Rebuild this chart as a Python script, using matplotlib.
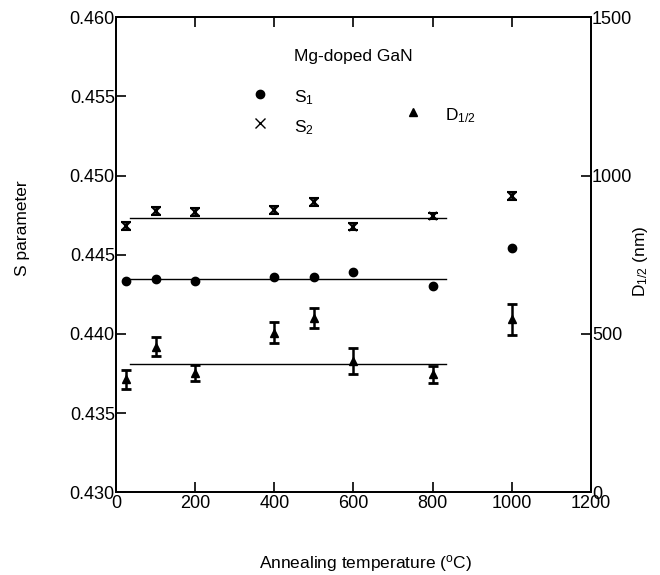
import matplotlib
matplotlib.use("Agg")
import matplotlib.pyplot as plt

plt.rcParams['font.family'] = ['Liberation Sans', 'DejaVu Sans']
plt.rcParams['mathtext.fontset'] = 'custom'
plt.rcParams['mathtext.rm'] = 'Liberation Sans'
plt.rcParams['mathtext.it'] = 'Liberation Sans:italic'

# annealing temperatures (C)
temps = [25, 100, 200, 400, 500, 600, 800, 1000]

# S parameters
s1 = [0.44335, 0.44345, 0.44331, 0.44360, 0.44358, 0.44391, 0.44301, 0.44545]
s2 = [0.44684, 0.44775, 0.44768, 0.44781, 0.44834, 0.44676, 0.44745, 0.44869]
s2_err = [0.00025, 0.00025, 0.00025, 0.00025, 0.00025, 0.00022, 0.00020, 0.00025]

# D1/2 (nm)
d12 = [356, 459, 377, 504, 550, 413, 372, 546]
d12_err = [30, 30, 25, 34, 32, 41, 27, 49]

# mean lines
s1_mean = 0.44347
s2_mean = 0.44735
d12_mean = 406
line_range = [35, 835]

fig = plt.figure(figsize=(6.6, 5.75), dpi=100)
ax = fig.add_axes([0.176, 0.144, 0.719, 0.826])
ax2 = ax.twinx()

ax.plot(temps, s1, 'o', color='black', markersize=6)
ax.errorbar(temps, s2, yerr=s2_err, fmt='x', color='black', markersize=6,
            mew=1.5, capsize=3.5, elinewidth=1.8, capthick=2)
ax.plot(line_range, [s1_mean, s1_mean], color='black', lw=1)
ax.plot(line_range, [s2_mean, s2_mean], color='black', lw=1)

ax2.errorbar(temps, d12, yerr=d12_err, fmt='^', color='black', markersize=6,
             capsize=3.5, elinewidth=1.8, capthick=2)
ax2.plot(line_range, [d12_mean, d12_mean], color='black', lw=1)

ax.set_xlim(0, 1200)
ax.set_ylim(0.430, 0.460)
ax2.set_ylim(0, 1500)
ax.set_xticks([0, 200, 400, 600, 800, 1000, 1200])
ax.set_yticks([0.430, 0.435, 0.440, 0.445, 0.450, 0.455, 0.460])
ax.set_yticklabels(['0.430', '0.435', '0.440', '0.445', '0.450', '0.455', '0.460'])
ax2.set_yticks([0, 500, 1000, 1500])

ax.tick_params(axis='x', direction='in', top=True, length=7, width=1.2,
               labelsize=13, pad=2)
ax.tick_params(axis='y', direction='in', length=7, width=1.2, labelsize=13, pad=1)
ax2.tick_params(axis='y', direction='in', length=7, width=1.2, labelsize=13, pad=1)
for sp in ax.spines.values():
    sp.set_linewidth(1.3)
for sp in ax2.spines.values():
    sp.set_linewidth(1.3)

fig.text(366 / 660, 1 - 564 / 575, r'Annealing temperature ($^{\mathrm{o}}$C)',
         fontsize=12.5, ha='center', va='center')
fig.text(23 / 660, 1 - 228 / 575, 'S parameter', fontsize=12.5,
         rotation=90, ha='center', va='center')
fig.text(640 / 660, 1 - 261 / 575, r'D$_{1/2}$ (nm)', fontsize=12.5,
         rotation=90, ha='center', va='center')

# in-plot key
ax.text(600, 0.4575, 'Mg-doped GaN', fontsize=12.5, ha='center', va='center')
ax.plot([364], [0.45514], 'o', color='black', markersize=6)
ax.text(450, 0.4549, r'S$_1$', fontsize=12.5, va='center')
ax.plot([364], [0.45330], 'x', color='black', markersize=7, mew=1)
ax.text(450, 0.4530, r'S$_2$', fontsize=12.5, va='center')
ax.plot([751], [0.45400], '^', color='black', markersize=6)
ax.text(832, 0.4538, r'D$_{1/2}$', fontsize=12.5, va='center')

fig.savefig('out.png', dpi=100)
